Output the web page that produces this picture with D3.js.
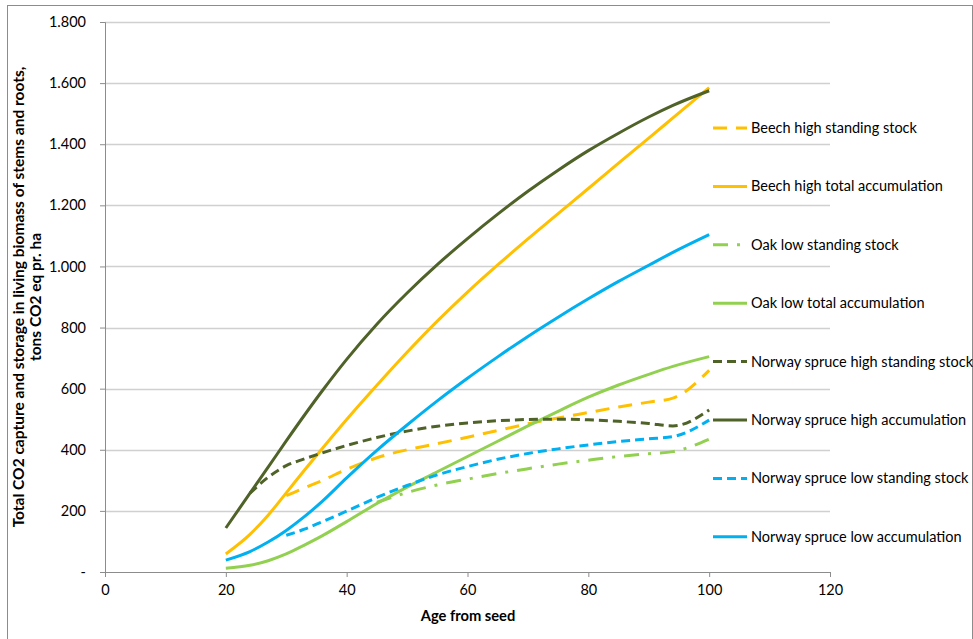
<!DOCTYPE html>
<html lang="en">
<head>
    <meta charset="UTF-8">
    <title>CO2 capture and storage in living biomass</title>
    <script type="text/javascript" src="https://d3js.org/d3.v7.min.js"></script>
    <style>
      body { margin: 0; background: #fff; }
      svg { display: block; font-family: "Lato", "Liberation Sans", sans-serif; }
    </style>
</head>
<body>
<script type="text/javascript">
// Data (age from seed -> tons CO2 eq pr. ha)
var ages = [20, 24, 27, 30, 33, 36, 40, 45, 50, 55, 60, 65, 70, 75, 80, 85, 90, 94, 100];

var beechStanding = [null, null, null, 250, 275, 300, 336, 374, 400, 420, 441, 463, 485, 504, 522, 540, 556, 569, 660];
var beechTotal    = [59, 123, 186, 259, 333, 405, 499, 611, 719, 821, 916, 1005, 1090, 1173, 1255, 1338, 1420, 1486, 1585];
var oakStanding   = [null, null, null, null, null, null, null, 228, 260, 285, 304, 322, 338, 353, 366, 378, 387, 394, 435];
var oakTotal      = [12, 22, 37, 59, 88, 119, 165, 224, 278, 328, 378, 428, 478, 526, 572, 612, 647, 673, 705];
var spruceHighStanding = [null, 258, 310, 348, 370, 390, 414, 440, 461, 477, 488, 495, 499, 500, 498, 493, 486, 478, 530];
var spruceHighTotal    = [144, 258, 343, 429, 513, 594, 696, 811, 913, 1006, 1091, 1171, 1246, 1315, 1379, 1436, 1489, 1527, 1575];
var spruceLowStanding  = [null, null, null, 120, 140, 165, 199, 244, 283, 318, 345, 369, 388, 403, 416, 427, 436, 443, 497];
var spruceLowTotal     = [39, 67, 98, 136, 181, 232, 308, 398, 481, 560, 634, 704, 771, 834, 894, 951, 1004, 1046, 1104];

var seriesNames = ["Beech high standing stock", "Beech high total accumulation",
                   "Oak low standing stock", "Oak low total accumulation",
                   "Norway spruce high standing stock", "Norway spruce high accumulation",
                   "Norway spruce low standing stock", "Norway spruce low accumulation"];
var seriesValues = [beechStanding, beechTotal, oakStanding, oakTotal,
                    spruceHighStanding, spruceHighTotal, spruceLowStanding, spruceLowTotal];
var seriesColors = ["#FFC000", "#FFC000", "#92D050", "#92D050",
                    "#4F6228", "#4F6228", "#00B0F0", "#00B0F0"];
var seriesDashes = ["14,9", null, "15,9,3,9", null, "9,5", null, "9,5", null];

var xTicks = [0, 20, 40, 60, 80, 100, 120];
var yTicks = [0, 200, 400, 600, 800, 1000, 1200, 1400, 1600, 1800];
var yTickLabels = ["-", "200", "400", "600", "800", "1.000", "1.200", "1.400", "1.600", "1.800"];

// Chart
var width = 973, height = 639;
var plotLeft = 105, plotRight = 830, plotTop = 22, plotBottom = 572;

var svg = d3.select("body").append("svg")
    .attr("width", width)
    .attr("height", height);

// outer frame of the chart area (bottom edge falls outside the picture)
svg.append("rect")
    .attr("x", 7.5).attr("y", 5.5)
    .attr("width", 965).attr("height", 700)
    .attr("fill", "#fff")
    .attr("stroke", "#8c8c8c");

var x = d3.scaleLinear().domain([0, 120]).range([plotLeft, plotRight]);
var y = d3.scaleLinear().domain([0, 1800]).range([plotBottom, plotTop]);

// horizontal gridlines
svg.append("g")
    .selectAll("line")
    .data(yTicks.slice(1))
    .enter().append("line")
    .attr("x1", plotLeft).attr("x2", plotRight)
    .attr("y1", function(d) { return Math.round(y(d)) + 0.5; })
    .attr("y2", function(d) { return Math.round(y(d)) + 0.5; })
    .attr("stroke", "#d0d0d0")
    .attr("stroke-width", 1.3);

// y axis
var yAxis = d3.axisLeft(y)
    .tickValues(yTicks)
    .tickFormat(function(d, i) { return yTickLabels[i]; })
    .tickSize(5)
    .tickPadding(14);
var gy = svg.append("g").attr("transform", "translate(" + plotLeft + ",0)").call(yAxis);

// x axis
var xAxis = d3.axisBottom(x)
    .tickValues(xTicks)
    .tickSize(5)
    .tickPadding(8);
var gx = svg.append("g").attr("transform", "translate(0," + plotBottom + ")").call(xAxis);

[gx, gy].forEach(function(g) {
  g.select(".domain").attr("stroke", "#8c8c8c");
  g.selectAll(".tick line").attr("stroke", "#8c8c8c");
  g.selectAll(".tick text")
    .attr("fill", "#000")
    .style("font-size", "14.5px")
    .style("font-family", "Lato, 'Liberation Sans', sans-serif");
});

// axis titles
svg.append("text")
    .attr("x", 468).attr("y", 621)
    .attr("text-anchor", "middle")
    .attr("font-weight", "bold")
    .attr("font-size", 14.7)
    .text("Age from seed");

var ytitle = svg.append("text")
    .attr("transform", "translate(24,297) rotate(-90)")
    .attr("text-anchor", "middle")
    .attr("font-weight", "bold")
    .attr("font-size", 15.5);
ytitle.append("tspan").attr("x", 0).attr("dy", 0)
    .text("Total CO2 capture and storage in living biomass of stems and roots,");
ytitle.append("tspan").attr("x", 0).attr("dy", 17)
    .text("tons CO2 eq pr. ha");

// lines
var line = d3.line()
    .defined(function(d) { return d[1] != null; })
    .x(function(d) { return x(d[0]); })
    .y(function(d) { return y(d[1]); })
    .curve(d3.curveMonotoneX);

seriesValues.forEach(function(vals, i) {
  var pts = ages.map(function(a, j) { return [a, vals[j]]; });
  svg.append("path")
      .attr("d", line(pts))
      .attr("fill", "none")
      .attr("stroke", seriesColors[i])
      .attr("stroke-width", 3)
      .attr("stroke-linejoin", "round")
      .attr("stroke-dasharray", seriesDashes[i]);
});

// legend on the right, over the plot area
var legend = svg.append("g");
seriesNames.forEach(function(name, i) {
  var ly = 128 + i * 58.4;
  legend.append("line")
      .attr("x1", 713).attr("x2", 747)
      .attr("y1", ly).attr("y2", ly)
      .attr("stroke", seriesColors[i])
      .attr("stroke-width", 3)
      .attr("stroke-dasharray", seriesDashes[i]);
  legend.append("text")
      .attr("x", 751).attr("y", ly + 5)
      .attr("font-size", 14.5)
      .attr("fill", "#000")
      .text(name);
});
</script>
</body>
</html>
